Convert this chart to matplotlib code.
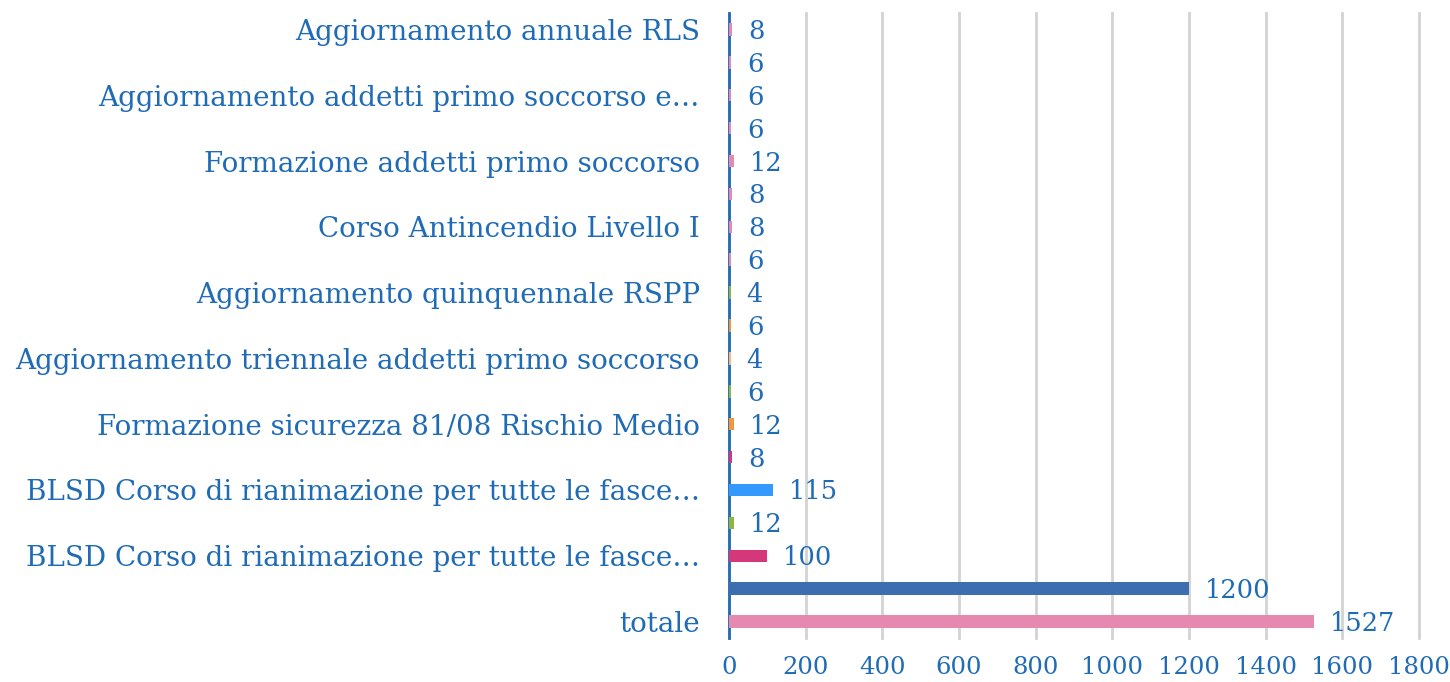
import matplotlib
matplotlib.use("Agg")
import matplotlib.pyplot as plt

labels = ["totale", "", "BLSD Corso di rianimazione per tutte le fasce…", "",
          "BLSD Corso di rianimazione per tutte le fasce…", "",
          "Formazione sicurezza 81/08 Rischio Medio", "",
          "Aggiornamento triennale addetti primo soccorso", "",
          "Aggiornamento quinquennale RSPP", "",
          "Corso Antincendio Livello I", "",
          "Formazione addetti primo soccorso", "",
          "Aggiornamento addetti primo soccorso e…", "",
          "Aggiornamento annuale RLS"]
values = [1527, 1200, 100, 12, 115, 8, 12, 6, 4, 6, 4, 6, 8, 8, 12, 6, 6, 6, 8]
colors = ["#E589B0", "#3D6FB0", "#D4387A", "#8DB53F", "#3399FF", "#D4387A",
          "#F5953A", "#8DB53F", "#F8B878", "#F5953A", "#8DB53F", "#E589B0",
          "#E589B0", "#E589B0", "#E589B0", "#E589B0", "#E589B0", "#E589B0", "#E589B0"]
xticks = [0, 200, 400, 600, 800, 1000, 1200, 1400, 1600, 1800]

txt = "#1F6BB5"
font = "DejaVu Serif"

fig = plt.figure(figsize=(14.5, 6.82), dpi=100)
ax = fig.add_axes([729/1450, 44/682, 690/1450, 625/682])
y = list(range(len(values)))
ax.barh(y, values, height=0.38, color=colors, zorder=3)
for yi, v in zip(y, values):
    ax.annotate(str(v), (v, yi), xytext=(16, -2), textcoords="offset pixels",
                va="center", ha="left", color=txt, fontsize=18.5, family=font)
ax.set_xlim(0, 1800)
ax.set_ylim(-0.5, len(values) - 0.5)
ax.set_xticks(xticks)
ax.set_xticklabels([str(t) for t in xticks], color=txt, fontsize=17.5, family=font)
ax.set_yticks(y)
ax.set_yticklabels(labels, color=txt, fontsize=20, family=font)
ax.tick_params(axis="both", length=0)
ax.tick_params(axis="y", pad=21)
ax.tick_params(axis="x", pad=13)
ax.xaxis.grid(True, color="#D3D3D3", linewidth=2, zorder=0)
ax.set_axisbelow(True)
for gl in ax.get_xgridlines():
    gl.set_clip_on(False)
for s in ["top", "right", "bottom"]:
    ax.spines[s].set_visible(False)
ax.spines["left"].set_color(txt)
ax.spines["left"].set_linewidth(2)
ax.spines["left"].set_zorder(2)
fig.savefig("out.png", dpi=100)
